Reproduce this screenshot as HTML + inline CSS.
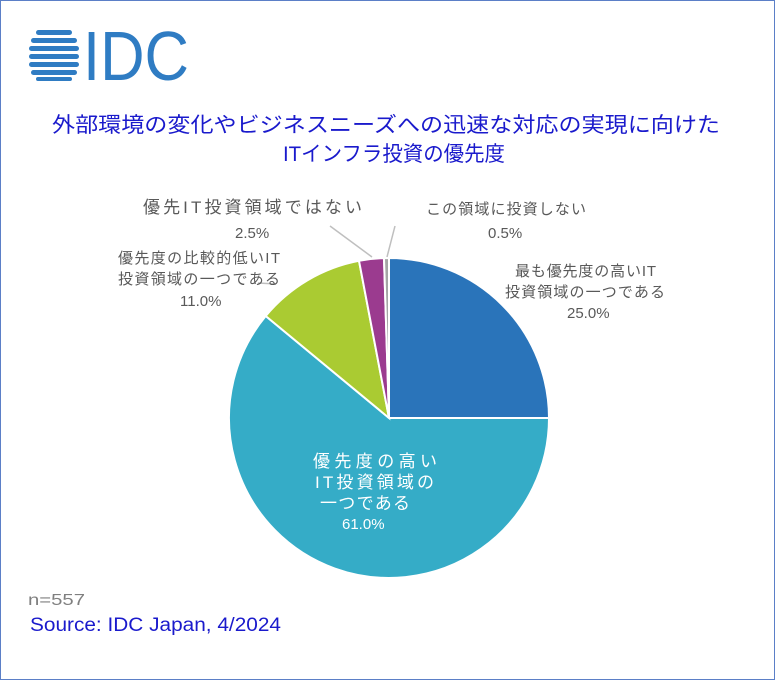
<!DOCTYPE html>
<html><head><meta charset="utf-8"><style>
body{margin:0;background:#fff}
.w{position:relative;width:773px;height:678px;border:1px solid #5b7fc7;overflow:hidden;font-family:"Liberation Sans","Noto Sans CJK JP",sans-serif}
</style></head><body><div class="w">
<svg width="775" height="680" style="position:absolute;left:-1px;top:-1px" font-family="Liberation Sans, Noto Sans CJK JP, sans-serif">
<g fill="#2f7cc3">
<rect x="36" y="30" width="36" height="5" rx="2.5"/>
<rect x="31" y="38" width="46" height="5" rx="2.5"/>
<rect x="29" y="46" width="50" height="5" rx="2.5"/>
<rect x="29" y="54" width="50" height="5" rx="2.5"/>
<rect x="29" y="62" width="50" height="5" rx="2.5"/>
<rect x="31" y="70" width="46" height="5" rx="2.5"/>
<rect x="36" y="77" width="36" height="4" rx="2"/>
</g>
<text x="83" y="80" font-family="Liberation Sans" font-size="70" fill="#2f7cc3" textLength="106" lengthAdjust="spacingAndGlyphs">IDC</text>
<text x="52" y="132" font-size="21" fill="#1a1acc" textLength="668" lengthAdjust="spacingAndGlyphs">外部環境の変化やビジネスニーズへの迅速な対応の実現に向けた</text>
<text x="283" y="161" font-size="21" fill="#1a1acc" textLength="222" lengthAdjust="spacingAndGlyphs">ITインフラ投資の優先度</text>
<g stroke="#fff" stroke-width="2">
<path d="M389 418 L389 258 A160 160 0 0 1 549 418 Z" fill="#2a74ba"/>
<path d="M389 418 L549 418 A160 160 0 1 1 265.7 316 Z" fill="#35acc7"/>
<path d="M389 418 L265.7 316 A160 160 0 0 1 359 260.8 Z" fill="#aacb32"/>
<path d="M389 418 L359 260.8 A160 160 0 0 1 384 258.1 Z" fill="#9b3b8f"/>
<path d="M389 418 L384 258.1 A160 160 0 0 1 389 258 Z" fill="#a5a5a5"/>
</g>
<g stroke="#bfbfbf" stroke-width="1.5" fill="none">
<path d="M372 257 L330 226"/><path d="M387 257 L395 226"/><path d="M276 284 L258 283"/>
</g>
<g font-size="15" fill="#595959" lengthAdjust="spacingAndGlyphs">
<text x="143" y="213" textLength="219" font-size="17">優先IT投資領域ではない</text><text x="235" y="238">2.5%</text>
<text x="426" y="214" textLength="160">この領域に投資しない</text><text x="488" y="238">0.5%</text>
<text x="118" y="263" textLength="162">優先度の比較的低いIT</text><text x="118" y="284" textLength="162">投資領域の一つである</text><text x="180" y="306">11.0%</text>
<text x="515" y="276" textLength="141">最も優先度の高いIT</text><text x="505" y="297" textLength="160">投資領域の一つである</text><text x="567" y="318">25.0%</text>
</g>
<g font-size="17" fill="#fff" lengthAdjust="spacingAndGlyphs">
<text x="313" y="467" textLength="124">優先度の高い</text><text x="315" y="488" textLength="119">IT投資領域の</text><text x="320" y="509" textLength="90">一つである</text><text x="342" y="529" font-size="15">61.0%</text>
</g>
<text x="28" y="605" font-size="16" fill="#7f7f7f" textLength="57" lengthAdjust="spacingAndGlyphs">n=557</text>
<text x="30" y="631" font-size="19" fill="#1a1acc" textLength="251" lengthAdjust="spacingAndGlyphs">Source: IDC Japan, 4/2024</text>
</svg></div></body></html>
